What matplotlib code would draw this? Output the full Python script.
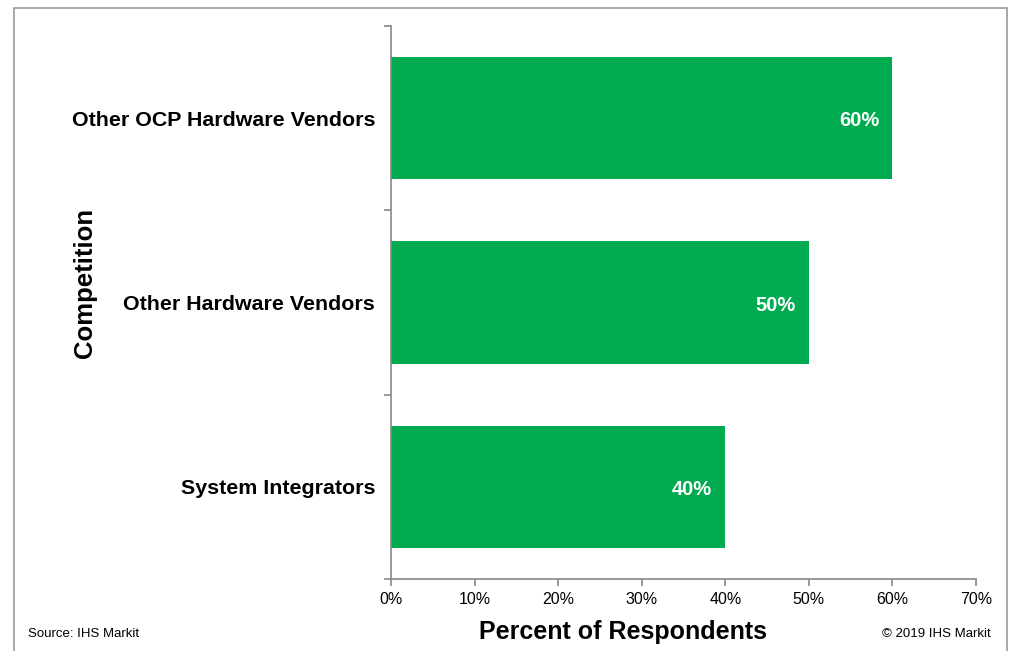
import matplotlib
matplotlib.use("Agg")
import matplotlib.pyplot as plt
from matplotlib.patches import Rectangle
from matplotlib.ticker import FuncFormatter, FixedLocator

plt.rcParams['font.family'] = ['Liberation Sans', 'DejaVu Sans']

categories = ["System Integrators", "Other Hardware Vendors", "Other OCP Hardware Vendors"]
values = [40, 50, 60]
value_labels = ["40%", "50%", "60%"]
x_ticks = [0, 10, 20, 30, 40, 50, 60, 70]

W, H = 1013, 651
fig = plt.figure(figsize=(W / 100, H / 100), dpi=100)
ax = fig.add_axes([391 / W, 1 - 579 / H, (976 - 391) / W, (579 - 26) / H])

bar_color = "#00AA4F"
ax.barh(range(len(categories)), values, height=0.665, color=bar_color, zorder=2)

ax.set_xlim(0, 70)
ax.set_ylim(-0.5, len(categories) - 0.5)

for i, (v, lab) in enumerate(zip(values, value_labels)):
    ax.text(v - 1.6, i - 0.015, lab, ha="right", va="center", color="white",
            fontsize=14.5, fontweight="bold")

ax.xaxis.set_major_locator(FixedLocator(x_ticks))
ax.xaxis.set_major_formatter(FuncFormatter(lambda x, p: f"{x:.0f}%"))
ax.set_yticks(range(len(categories)))
ax.set_yticklabels(categories, fontsize=15.4, fontweight="bold")
ax.yaxis.set_minor_locator(FixedLocator([-0.5, 0.5, 1.5, 2.5]))
ax.tick_params(axis="y", which="major", length=0, pad=11.5)
ax.tick_params(axis="y", which="minor", length=5, width=1.2, color="#888888", direction="out")
ax.tick_params(axis="x", which="major", length=5, width=1.2, color="#888888",
               direction="out", labelsize=11.5, pad=4)

for s in ["top", "right"]:
    ax.spines[s].set_visible(False)
for s in ["left", "bottom"]:
    ax.spines[s].set_color("#888888")
    ax.spines[s].set_linewidth(1.2)

fig.text(623 / W, 1 - 632 / H, "Percent of Respondents", ha="center", va="center",
         fontsize=18, fontweight="bold")
fig.text(85 / W, 1 - 283 / H, "Competition", rotation=90, ha="center", va="center",
         fontsize=18.5, fontweight="bold")

fig.text(28 / W, 1 - 634 / H, "Source: IHS Markit", ha="left", va="center", fontsize=9.5)
fig.text(991 / W, 1 - 634 / H, "© 2019 IHS Markit", ha="right", va="center", fontsize=9.5)

# outer frame
fig.patches.append(Rectangle((14 / W, -0.1), (1007 - 14) / W, 1 - 8 / H + 0.1,
                             transform=fig.transFigure, fill=False,
                             edgecolor="#9a9a9a", linewidth=1.2))

fig.savefig("out.png", dpi=100)
